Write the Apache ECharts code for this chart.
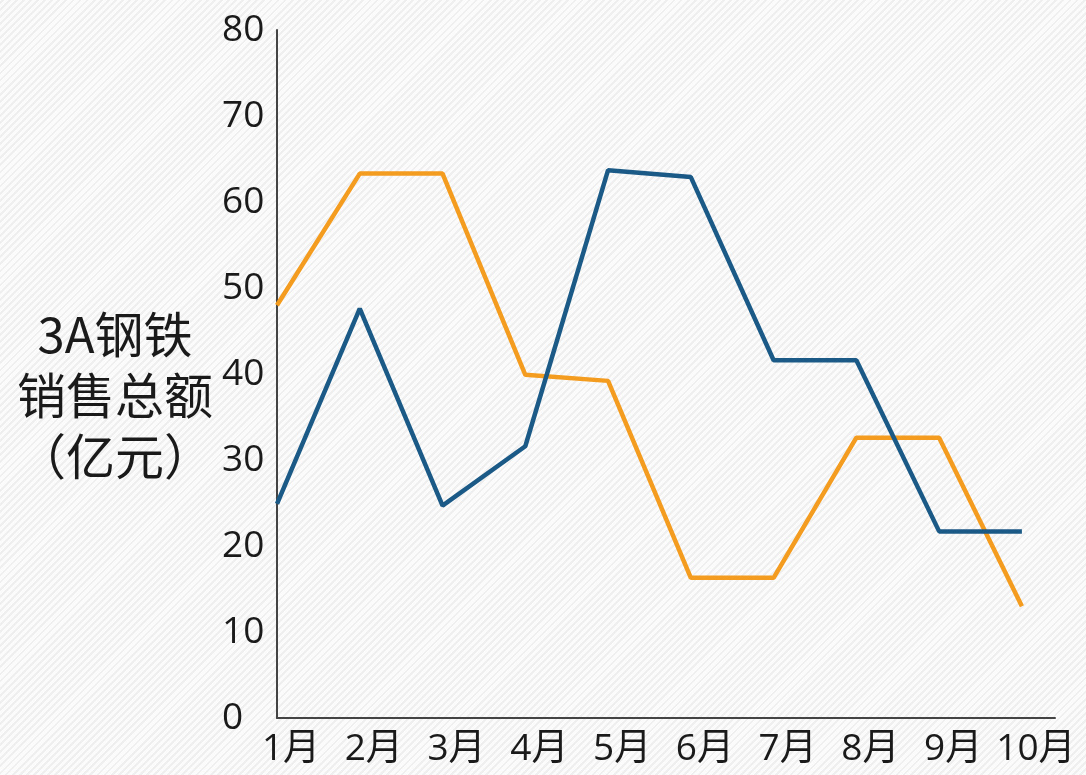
<!DOCTYPE html>
<html>
<head>
<meta charset="utf-8">
<script src="https://cdn.jsdelivr.net/npm/echarts@6/dist/echarts.min.js"></script>
<style>
    html, body { margin: 0; padding: 0; }
    body {
        background-color: #f6f6f6;
        background-image: repeating-linear-gradient(-45deg, #fbfbfb 0px, #fbfbfb 3px, #efefef 3px, #efefef 5px);
    }
    #lineChart { width: 1086px; height: 775px; }
</style>
</head>
<body>
<div id="lineChart"></div>
<script>
var months = ["1月", "2月", "3月", "4月", "5月", "6月", "7月", "8月", "9月", "10月"];
var yTicks = [0, 10, 20, 30, 40, 50, 60, 70, 80];
var orangeValues = [48, 63.3, 63.3, 39.9, 39.2, 16.3, 16.3, 32.6, 32.6, 13];
var blueValues = [24.9, 47.6, 24.7, 31.6, 63.7, 62.9, 41.6, 41.6, 21.7, 21.7];
var yName = "3A钢铁\n销售总额\n（亿元）";

var fontStack = '"Open Sans", "Noto Sans CJK SC", sans-serif';

// x 用数值轴，1..10 对应月份，让轴线在 10月 之后再延伸一段
function toPairs(arr) {
    return arr.map(function(v, i) { return [i + 1, v]; });
}

var myChart = echarts.init(document.getElementById("lineChart"));
var option = {
    backgroundColor: 'transparent',
    animation: false,
    textStyle: {
        fontFamily: fontStack,
        color: '#1a1a1a'
    },
    grid: {
        left: 277,
        right: 31,
        top: 30,
        bottom: 57
    },
    graphic: [{
        type: 'text',
        x: 115,
        y: 304,
        style: {
            text: yName,
            fontSize: 49,
            lineHeight: 61,
            align: 'center',
            verticalAlign: 'top',
            fill: '#1a1a1a',
            fontFamily: '"Noto Sans CJK SC", sans-serif'
        }
    }],
    xAxis: {
        type: 'value',
        min: 1,
        max: 10.4,
        interval: 1,
        splitLine: { show: false },
        axisTick: { show: false },
        axisLine: { show: true, lineStyle: { color: '#444', width: 2 } },
        axisLabel: {
            fontSize: 37,
            color: '#1a1a1a',
            margin: 13,
            padding: [0, 0, 0, 28],
            showMaxLabel: false,
            formatter: function(v) {
                return months[v - 1] || '';
            }
        }
    },
    yAxis: {
        type: 'value',
        min: yTicks[0],
        max: yTicks[yTicks.length - 1],
        interval: 10,
        splitLine: { show: false },
        axisTick: { show: false },
        axisLine: { show: true, lineStyle: { color: '#444', width: 2 } },
        axisLabel: {
            fontSize: 37,
            color: '#1a1a1a',
            align: 'left',
            margin: 55
        }
    },
    series: [{
        type: 'line',
        data: toPairs(orangeValues),
        symbol: 'none',
        lineStyle: { color: '#F39C1F', width: 4.5 }
    }, {
        type: 'line',
        data: toPairs(blueValues),
        symbol: 'none',
        lineStyle: { color: '#1B5A86', width: 4.5 }
    }]
};
myChart.setOption(option, true);
</script>
</body>
</html>
